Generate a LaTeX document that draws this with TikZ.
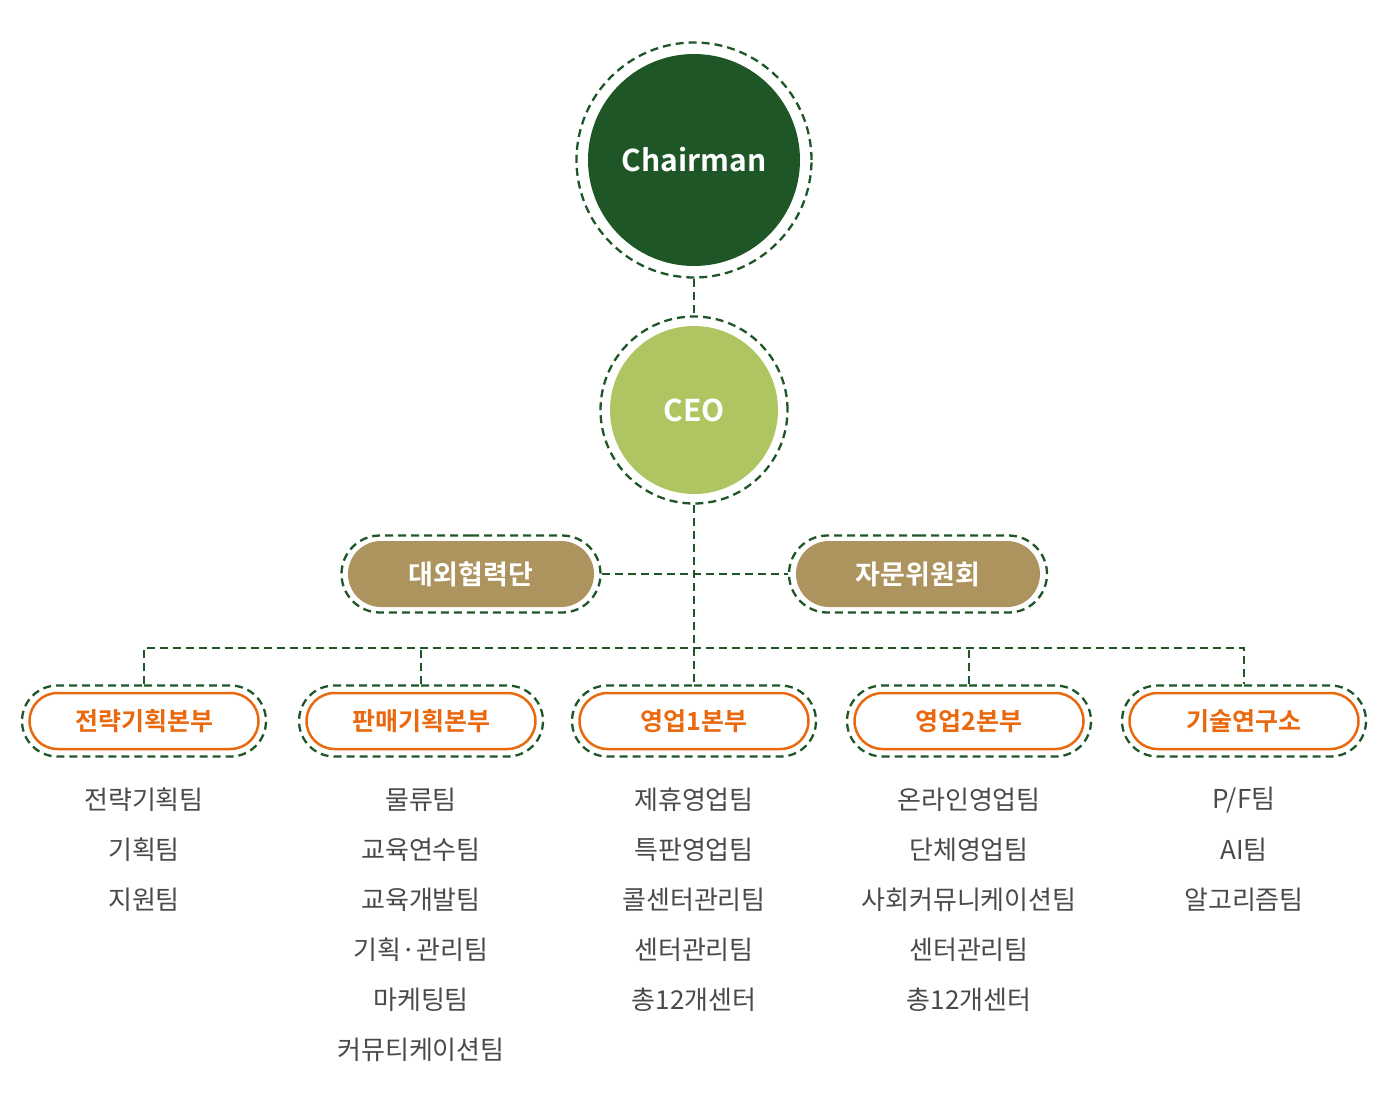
\documentclass[tikz,border=0pt]{standalone}
\usepackage{fontspec}
\setmainfont{Noto Sans CJK KR}[BoldFont={Noto Sans CJK KR Bold}]
\usetikzlibrary{shapes.misc}

\definecolor{darkgreen}{HTML}{1E5628}
\definecolor{leafgreen}{HTML}{AFC562}
\definecolor{khaki}{HTML}{AD935E}
\definecolor{deptorange}{HTML}{EA690F}
\definecolor{teamgray}{HTML}{4A4A4A}

\tikzset{
    ring/.style={draw=darkgreen, line width=2.3pt, dash pattern=on 8pt off 5pt, inner sep=0pt},
    link/.style={draw=darkgreen, line width=2.3pt, dash pattern=on 8pt off 5pt},
    bigdot/.style={circle, inner sep=0pt, text=white, font=\bfseries\fontsize{30}{30}\selectfont},
    pill/.style={rounded rectangle, inner sep=0pt},
    dept/.style={pill, draw=deptorange, line width=2.5pt, fill=white, minimum width=229pt, minimum height=56pt,
        text=deptorange, font=\bfseries\fontsize{25}{25}\selectfont},
    advisor/.style={pill, fill=khaki, minimum width=246pt, minimum height=66pt,
        text=white, font=\bfseries\fontsize{27}{27}\selectfont},
    team/.style={text=teamgray, inner sep=0pt, font=\fontsize{26}{26}\selectfont}
}

\begin{document}
\begin{tikzpicture}[x=1pt, y=-1pt]
    \useasboundingbox (0, 0) rectangle (1400, 1100);

    % Chairman and CEO
    \node[ring, circle, minimum size=235pt] (chair) at (694, 160) {};
    \node[bigdot, fill=darkgreen, minimum size=212pt] (chairIn) at (chair) {Chairman};
    \node[ring, circle, minimum size=187pt] (ceo) at (694, 410) {};
    \node[bigdot, fill=leafgreen, minimum size=168pt] (ceoIn) at (ceo) {CEO};

    % advisory bodies
    \node[ring, pill, minimum width=259pt, minimum height=77pt] (ext) at (471, 574) {};
    \node[advisor] (extIn) at (ext) {대외협력단};
    \node[ring, pill, minimum width=258pt, minimum height=77pt] (board) at (918, 574) {};
    \node[advisor, minimum width=244pt] (boardIn) at (board) {자문위원회};

    % divisions
    \foreach \name/\x/\label in {d1/144/전략기획본부, d2/421/판매기획본부, d3/694/영업1본부,
            d4/969/영업2본부, d5/1244/기술연구소} {
            \node[ring, pill, minimum width=244pt, minimum height=71pt] (\name) at (\x, 721) {};
            \node[dept] (\name In) at (\name) {\label};
        }

    % connectors
    \coordinate (bus) at (694, 648);
    \draw[link] (chair.south) -- (ceo.north);
    \draw[link] (ceo.south) -- (d3.north);
    \draw[link] (ext.east) -- (board.west);
    \draw[link] (d1.north) -- (d1.north |- bus) -- (d5.north |- bus) -- (d5.north);
    \draw[link] (d2.north) -- (d2.north |- bus);
    \draw[link] (d4.north) -- (d4.north |- bus);

    % teams
    \foreach \t [count=\i] in {전략기획팀, 기획팀, 지원팀}
        \node[team] (a\i) at (144, 750+50*\i) {\t};
    \foreach \t [count=\i] in {물류팀, 교육연수팀, 교육개발팀, 기획·관리팀, 마케팅팀, 커뮤티케이션팀}
        \node[team] (b\i) at (421, 750+50*\i) {\t};
    \foreach \t [count=\i] in {제휴영업팀, 특판영업팀, 콜센터관리팀, 센터관리팀, 총12개센터}
        \node[team] (c\i) at (694, 750+50*\i) {\t};
    \foreach \t [count=\i] in {온라인영업팀, 단체영업팀, 사회커뮤니케이션팀, 센터관리팀, 총12개센터}
        \node[team] (e\i) at (969, 750+50*\i) {\t};
    \foreach \t [count=\i] in {P/F팀, AI팀, 알고리즘팀}
        \node[team] (f\i) at (1244, 750+50*\i) {\t};
\end{tikzpicture}
\end{document}
